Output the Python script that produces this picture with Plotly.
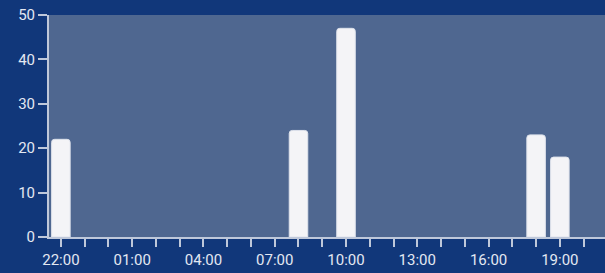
import plotly.graph_objects as go

hours = ["22:00", "23:00", "00:00", "01:00", "02:00", "03:00", "04:00", "05:00",
         "06:00", "07:00", "08:00", "09:00", "10:00", "11:00", "12:00", "13:00",
         "14:00", "15:00", "16:00", "17:00", "18:00", "19:00", "20:00", "21:00"]
values = [22, None, None, None, None, None, None, None, None, None, 24, None, 47,
          None, None, None, None, None, None, None, 23, 18, None, None]
tick_labels = ["22:00", "01:00", "04:00", "07:00", "10:00", "13:00", "16:00", "19:00"]
y_ticks = [0, 10, 20, 30, 40, 50]

axis_col = "#bfc8da"
text_col = "#e3e8f2"

fig = go.Figure(go.Bar(
    x=hours, y=values, width=0.78,
    marker=dict(color="#f4f4f7", line=dict(color="#dfe3ec", width=1)),
))

fig.update_layout(
    width=605, height=273,
    margin=dict(l=49, r=0, t=15, b=36),
    paper_bgcolor="#11377a",
    plot_bgcolor="#4f6790",
    barcornerradius=3,
    showlegend=False,
    font=dict(family="Roboto", size=15, color=text_col),
)
fig.update_xaxes(
    type="category", categoryorder="array", categoryarray=hours,
    range=[-0.5, 22.9],
    tickmode="array", tickvals=hours,
    ticktext=[h if h in tick_labels else "" for h in hours],
    ticks="outside", ticklen=8, tickwidth=2, tickcolor=axis_col,
    showline=True, linecolor=axis_col, linewidth=2,
    showgrid=False, zeroline=False,
)
fig.update_yaxes(
    range=[0, 50], tickvals=y_ticks,
    ticks="outside", ticklen=9, tickwidth=2, tickcolor=axis_col,
    showline=True, linecolor=axis_col, linewidth=2,
    showgrid=False, zeroline=False,
)
fig.write_html(
    "out.html",
    config={"displayModeBar": False},
    post_script="document.body.style.margin='0';document.body.style.overflow='hidden';",
)
